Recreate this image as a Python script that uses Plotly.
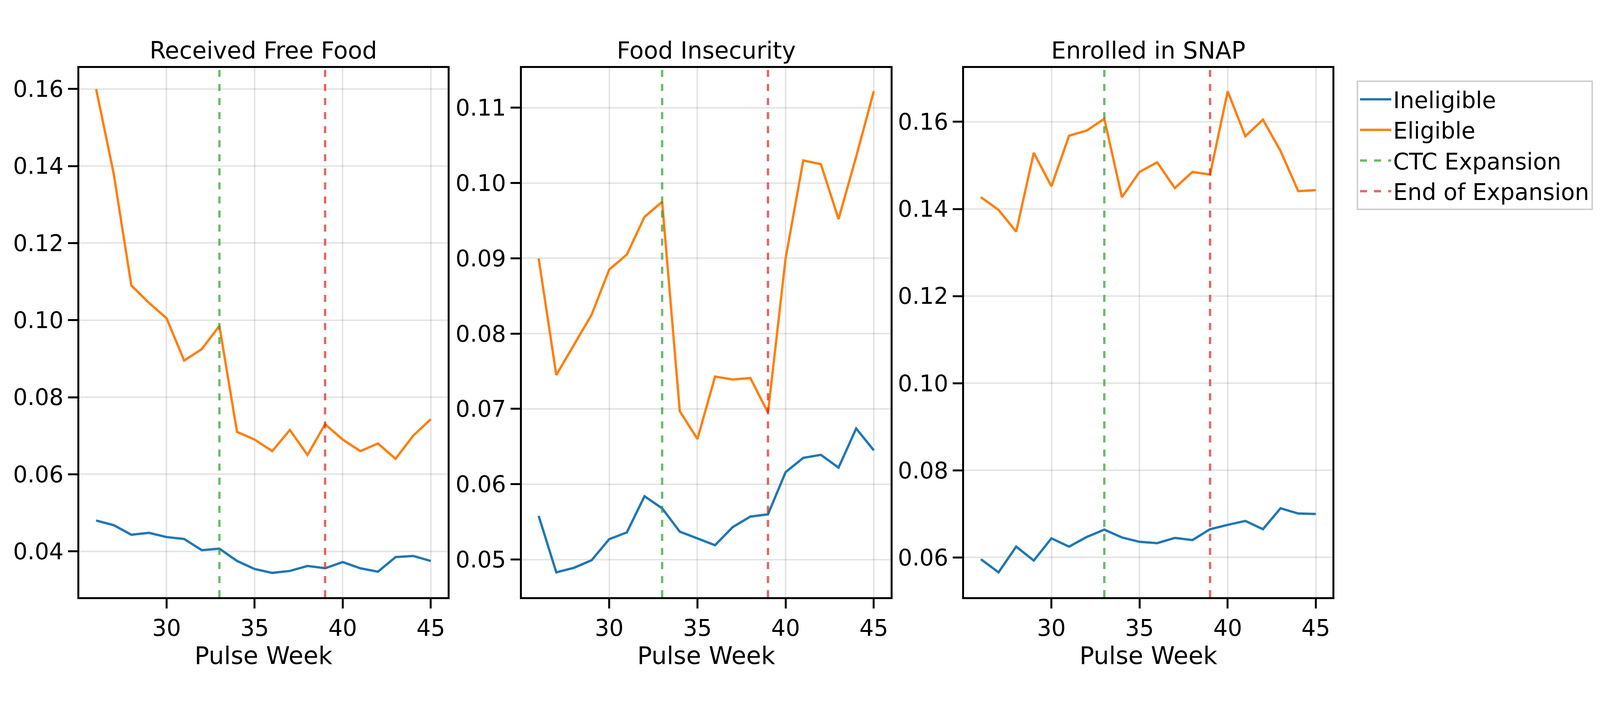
import plotly.graph_objects as go

weeks = list(range(26, 46))

free_food_inel = [0.048, 0.0468, 0.0443, 0.0448, 0.0437, 0.0432, 0.0403, 0.0407, 0.0375, 0.0354,
                  0.0344, 0.0349, 0.0362, 0.0356, 0.0372, 0.0356, 0.0347, 0.0385, 0.0388, 0.0375]
free_food_elig = [0.160, 0.138, 0.109, 0.1045, 0.1005, 0.0895, 0.0925, 0.0985, 0.071, 0.069,
                  0.066, 0.0715, 0.065, 0.073, 0.069, 0.066, 0.068, 0.064, 0.070, 0.0743]
insec_inel = [0.0558, 0.0483, 0.0489, 0.0499, 0.0527, 0.0536, 0.0584, 0.0568, 0.0537, 0.0528,
              0.0519, 0.0543, 0.0557, 0.056, 0.0616, 0.0635, 0.0639, 0.0622, 0.0674, 0.0645]
insec_elig = [0.090, 0.0745, 0.0785, 0.0825, 0.0885, 0.0905, 0.0955, 0.0975, 0.0697, 0.066,
              0.0743, 0.0739, 0.0741, 0.0695, 0.090, 0.103, 0.1025, 0.0952, 0.1035, 0.1122]
snap_inel = [0.0596, 0.0566, 0.0625, 0.0593, 0.0644, 0.0625, 0.0647, 0.0664, 0.0646, 0.0636,
             0.0633, 0.0645, 0.0640, 0.0665, 0.0675, 0.0684, 0.0665, 0.0713, 0.0701, 0.0700]
snap_elig = [0.1427, 0.1398, 0.1348, 0.1529, 0.1452, 0.1568, 0.1580, 0.1607, 0.1427, 0.1485,
             0.1507, 0.1448, 0.1485, 0.1479, 0.1670, 0.1567, 0.1605, 0.1533, 0.1441, 0.1443]

titles = ["Received Free Food", "Food Insecurity", "Enrolled in SNAP"]
panels = [(free_food_inel, free_food_elig), (insec_inel, insec_elig), (snap_inel, snap_elig)]
y_ranges = [[0.0281, 0.1655], [0.045, 0.1153], [0.0509, 0.1724]]
y_dticks = [0.02, 0.01, 0.02]
x_domains = [[287, 1673], [1953, 3341], [3618, 5005]]
ctc_week = 33
end_week = 39

FONT = "DejaVu Sans"
fig = go.Figure()

for i, (inel, elig) in enumerate(panels):
    n = "" if i == 0 else str(i + 1)
    fig.add_trace(go.Scatter(x=weeks, y=inel, mode="lines", name="Ineligible",
                             line=dict(color="#1f77b4", width=6), showlegend=(i == 0),
                             xaxis="x" + n, yaxis="y" + n))
    fig.add_trace(go.Scatter(x=weeks, y=elig, mode="lines", name="Eligible",
                             line=dict(color="#ff7f0e", width=6), showlegend=(i == 0),
                             xaxis="x" + n, yaxis="y" + n))
    for wk, col, nm in [(ctc_week, "rgba(44,160,44,0.7)", "CTC Expansion"),
                        (end_week, "rgba(214,39,40,0.7)", "End of Expansion")]:
        fig.add_shape(type="line", x0=wk, x1=wk, y0=0, y1=1, xref="x" + n, yref=("y" + n) + " domain",
                      line=dict(color=col, width=6, dash="dash"), layer="above",
                      showlegend=(i == 0), name=nm)
    axis_common = dict(showline=True, linecolor="black", linewidth=5, mirror=True,
                       ticks="outside", ticklen=24, tickwidth=5, tickcolor="black",
                       showgrid=True, gridcolor="rgba(0,0,0,0.1)", gridwidth=4,
                       zeroline=False, tickfont=dict(size=58, family=FONT, color="black"))
    fig.update_layout(**{
        "xaxis" + n: dict(domain=[x_domains[i][0] / 6000, x_domains[i][1] / 6000],
                          range=[25.05, 45.95], tickvals=[30, 35, 40, 45],
                          anchor="y" + n,
                          title=dict(text="Pulse Week", font=dict(size=62, family=FONT, color="black"),
                                     standoff=10),
                          **axis_common),
        "yaxis" + n: dict(domain=[0.155, 0.908], range=y_ranges[i], dtick=y_dticks[i],
                          tickformat=".2f", anchor="x" + n, **axis_common),
    })
    fig.add_annotation(text=titles[i], x=(x_domains[i][0] + x_domains[i][1]) / 12000, y=0.912,
                       xref="paper", yref="paper", xanchor="center", yanchor="bottom",
                       showarrow=False, font=dict(size=60, family=FONT, color="black"))

fig.update_layout(
    autosize=True, height=1800,
    margin=dict(l=0, r=0, t=0, b=0),
    plot_bgcolor="white", paper_bgcolor="white",
    legend=dict(x=5095 / 6000, y=1 - 198 / 1800, xanchor="left", yanchor="top",
                bgcolor="white", bordercolor="#d0d0d0", borderwidth=4,
                font=dict(size=58, family=FONT, color="black"), itemwidth=80,
                tracegroupgap=0),
)

fig.write_html("out.html", default_width="100%", default_height="1800px")
